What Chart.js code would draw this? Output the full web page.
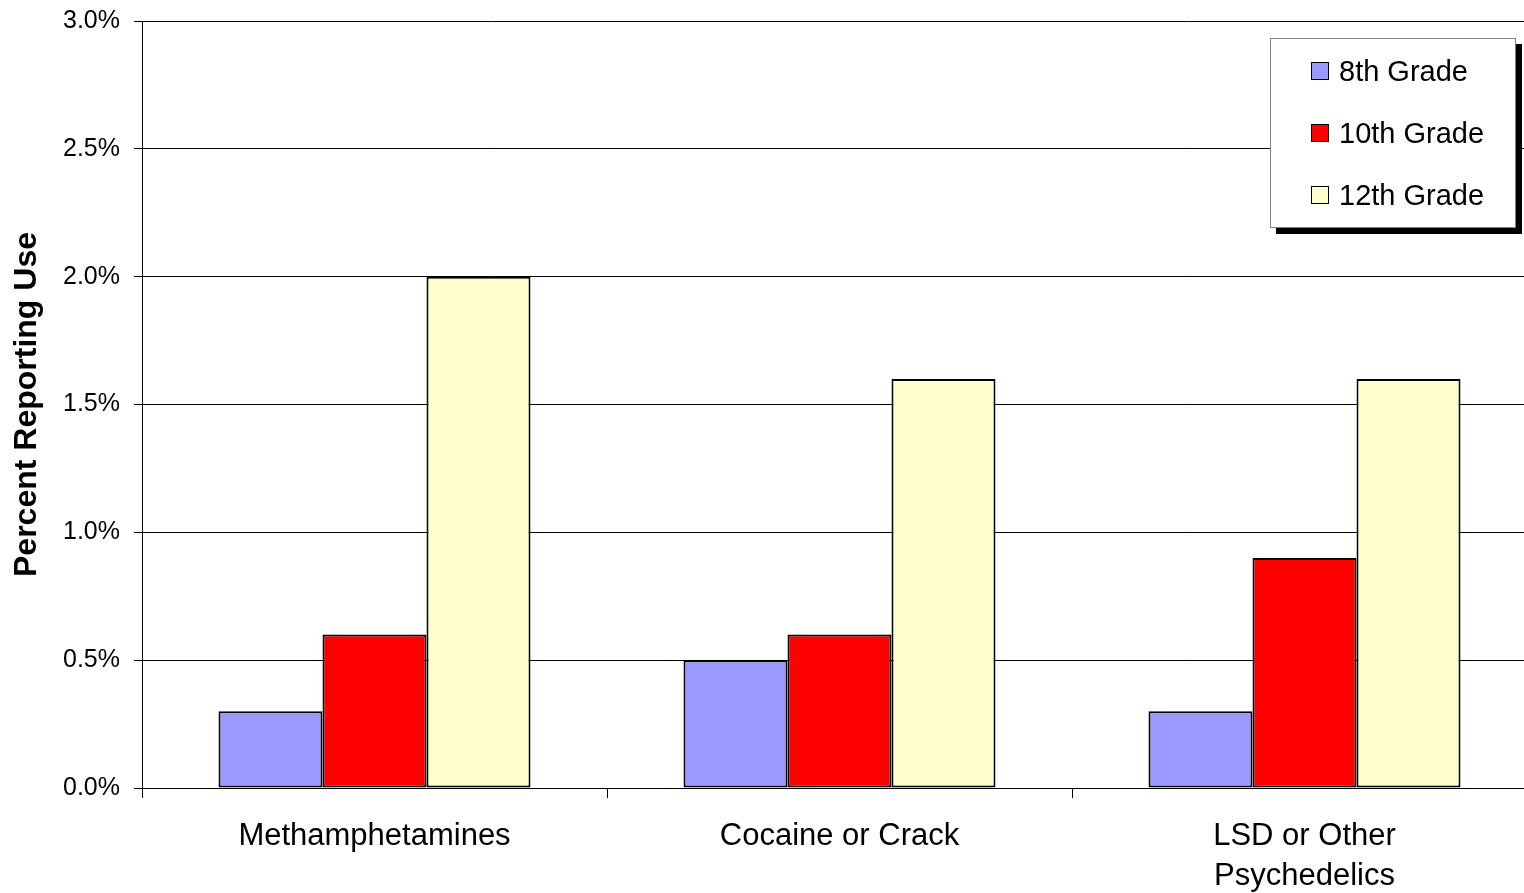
<!DOCTYPE html>
<html>
<head>
<meta charset="utf-8">
<script src="https://cdn.jsdelivr.net/npm/chart.js@4"></script>
<style>
  html, body { margin: 0; padding: 0; background: #fff; overflow: hidden; }
  #wrap { position: relative; width: 1524px; height: 893px; overflow: hidden; }
  #chart { position: absolute; left: 0; top: -8px; }
  #legend {
    position: absolute; left: 1270px; top: 38px; width: 244px; height: 188px;
    background: #fff; border: 1px solid #808080; box-shadow: 6px 6px 0 #000;
    font-family: 'Liberation Sans', Arial, sans-serif; font-size: 29px; color: #000;
  }
  .item { position: absolute; left: 40px; height: 30px; display: flex; align-items: center; }
  .swatch { width: 16px; height: 16px; border: 1.5px solid #000; margin-right: 10px; }
</style>
</head>
<body>
<div id="wrap">
  <canvas id="chart" width="1540" height="901"></canvas>
  <div id="legend"></div>
</div>
<script>
const categories = ['Methamphetamines', 'Cocaine or Crack', ['LSD or Other', 'Psychedelics']];
const seriesNames = ['8th Grade', '10th Grade', '12th Grade'];
const seriesColors = ['#9999FF', '#FF0000', '#FFFFCC'];
const grade8 = [0.3, 0.5, 0.3];
const grade10 = [0.6, 0.6, 0.9];
const grade12 = [2.0, 1.6, 1.6];
const yTicks = [0, 0.5, 1.0, 1.5, 2.0, 2.5, 3.0];

const FONT = "'Liberation Sans', Arial, sans-serif";
const values = [grade8, grade10, grade12];

const datasets = seriesNames.map((name, i) => ({
  label: name,
  data: values[i],
  backgroundColor: seriesColors[i],
  borderColor: '#000',
  borderWidth: 2,
  borderSkipped: false,
  categoryPercentage: 0.671,
  barPercentage: 1.0
}));

new Chart(document.getElementById('chart'), {
  type: 'bar',
  data: { labels: categories, datasets },
  options: {
    responsive: false,
    animation: false,
    layout: { padding: { left: 8, top: 5, right: 3, bottom: 0 } },
    plugins: { legend: { display: false }, tooltip: { enabled: false } },
    scales: {
      x: {
        grid: { drawOnChartArea: false, tickLength: 10, color: '#000', offset: true },
        border: { color: '#000', width: 1 },
        ticks: { color: '#000', padding: 18, font: { family: FONT, size: 31, lineHeight: 1.3 }, maxRotation: 0 },
        afterFit: s => { s.height = 105; }
      },
      y: {
        min: 0, max: 3,
        afterBuildTicks: s => { s.ticks = yTicks.map(v => ({ value: v })); },
        grid: { color: '#000', lineWidth: 1, tickLength: 8 },
        border: { color: '#000', width: 1 },
        ticks: { color: '#000', padding: 14, font: { family: FONT, size: 25 }, callback: v => v.toFixed(1) + '%' },
        title: { display: true, text: 'Percent Reporting Use', color: '#000', padding: 0,
                 font: { family: FONT, size: 32, weight: 'bold' } },
        afterFit: s => { s.width = 134; }
      }
    }
  }
});

const legend = document.getElementById('legend');
seriesNames.forEach((name, i) => {
  const row = document.createElement('div');
  row.className = 'item';
  row.style.top = (17 + i * 62) + 'px';
  row.innerHTML = `<span class="swatch" style="background:${seriesColors[i]}"></span><span>${name}</span>`;
  legend.appendChild(row);
});
</script>
</body>
</html>
